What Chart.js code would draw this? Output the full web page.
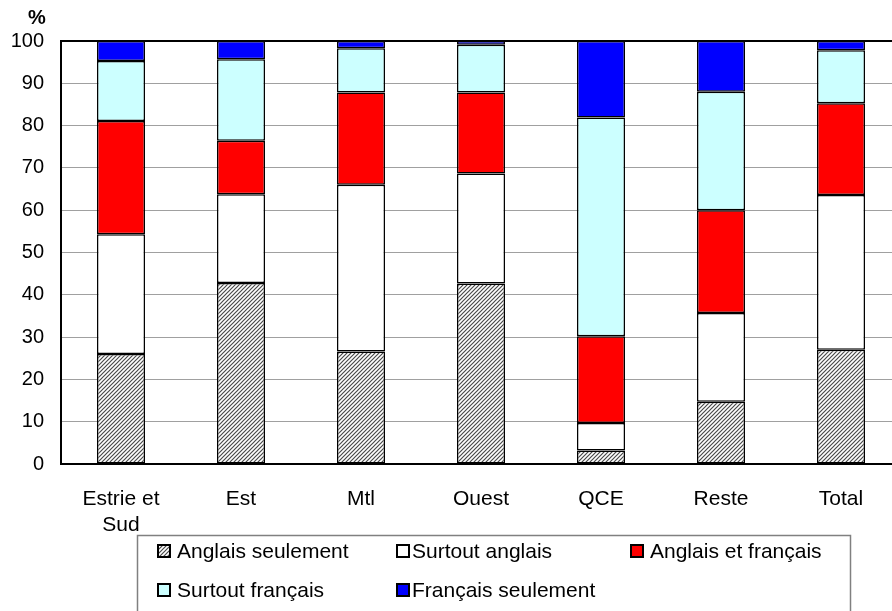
<!DOCTYPE html>
<html>
<head>
<meta charset="utf-8">
<script src="https://cdn.jsdelivr.net/npm/chart.js@4/dist/chart.umd.min.js"></script>
<style>
  html, body { margin: 0; padding: 0; background: #fff; overflow: hidden; }
  #wrap { position: absolute; left: 0; top: 0; width: 910px; height: 611px; }
</style>
</head>
<body>
<div id="wrap"><canvas id="chart" width="910" height="611"></canvas></div>
<script>
var categories = [['Estrie et', 'Sud'], 'Est', 'Mtl', 'Ouest', 'QCE', 'Reste', 'Total'];
var anglaisSeulement = [26.0, 42.8, 26.6, 42.7, 3.2, 14.7, 27.0];
var surtoutAnglais = [28.3, 21.0, 39.4, 26.0, 6.5, 21.0, 36.6];
var anglaisEtFrancais = [26.8, 12.6, 21.8, 19.1, 20.5, 24.3, 21.7];
var surtoutFrancais = [14.2, 19.3, 10.5, 11.3, 51.7, 28.0, 12.5];
var francaisSeulement = [4.7, 4.3, 1.7, 0.9, 18.1, 12.0, 2.2];
var yTicks = [0, 10, 20, 30, 40, 50, 60, 70, 80, 90, 100];

var FONT = '"Liberation Sans", Arial, sans-serif';

// motif hachuré pour "Anglais seulement"
function makeHatch() {
  var c = document.createElement('canvas');
  c.width = 4; c.height = 4;
  var g = c.getContext('2d');
  g.fillStyle = '#fff';
  g.fillRect(0, 0, 4, 4);
  g.strokeStyle = '#4a4a4a';
  g.lineWidth = 1.2;
  g.beginPath();
  g.moveTo(-1, 5); g.lineTo(5, -1);
  g.moveTo(-1, 1); g.lineTo(1, -1);
  g.moveTo(3, 5); g.lineTo(5, 3);
  g.stroke();
  return g.createPattern(c, 'repeat');
}
var hatch = makeHatch();

function ds(label, data, color) {
  return {
    label: label,
    data: data,
    backgroundColor: color,
    borderColor: '#000',
    borderWidth: 1.5,
    borderSkipped: false,
    barPercentage: 0.4,
    categoryPercentage: 1.0
  };
}

// légende encadrée + symbole %
var extras = {
  id: 'extras',
  afterDraw: function (chart) {
    var c = chart.ctx;
    c.save();
    c.fillStyle = '#000';
    c.font = 'bold 20px ' + FONT;
    c.textAlign = 'center';
    c.textBaseline = 'middle';
    c.fillText('%', 37, 18);

    c.strokeStyle = '#808080';
    c.lineWidth = 1.5;
    c.strokeRect(137.5, 535.5, 713, 100);

    var iconX = [158, 397, 631];
    var textX = [177, 412, 650];
    var rowY = [551, 590];
    c.font = '21px ' + FONT;
    c.textAlign = 'left';
    chart.data.datasets.forEach(function (d, i) {
      var col = i % 3, row = Math.floor(i / 3);
      var y = rowY[row];
      c.fillStyle = d.backgroundColor;
      c.fillRect(iconX[col], y - 6, 12, 12);
      c.strokeStyle = '#000';
      c.lineWidth = 2;
      c.strokeRect(iconX[col], y - 6, 12, 12);
      c.fillStyle = '#000';
      c.fillText(d.label, textX[col], y + 1);
    });
    c.restore();
  }
};

var ctx = document.getElementById('chart').getContext('2d');
new Chart(ctx, {
  type: 'bar',
  data: {
    labels: categories,
    datasets: [
      ds('Anglais seulement', anglaisSeulement, hatch),
      ds('Surtout anglais', surtoutAnglais, '#ffffff'),
      ds('Anglais et français', anglaisEtFrancais, '#ff0000'),
      ds('Surtout français', surtoutFrancais, '#ccffff'),
      ds('Français seulement', francaisSeulement, '#0000ff')
    ]
  },
  options: {
    responsive: false,
    animation: false,
    layout: { padding: { top: 41, right: 9, left: 0, bottom: 0 } },
    plugins: {
      legend: { display: false },
      tooltip: { enabled: false }
    },
    scales: {
      x: {
        stacked: true,
        grid: { display: false },
        border: { display: true, color: '#000', width: 2 },
        ticks: {
          color: '#000',
          padding: 14,
          maxRotation: 0,
          autoSkip: false,
          font: { family: FONT, size: 21, lineHeight: 1.25 }
        },
        afterFit: function (s) { s.height = 147; }
      },
      y: {
        stacked: true,
        min: 0,
        max: 100,
        afterBuildTicks: function (s) { s.ticks = yTicks.map(function (v) { return { value: v }; }); },
        grid: {
          drawTicks: false,
          color: function (c) { return c.tick && c.tick.value === 100 ? '#000' : '#a0a0a0'; },
          lineWidth: function (c) { return c.tick && c.tick.value === 100 ? 2 : 1; }
        },
        border: { display: true, color: '#000', width: 2 },
        ticks: {
          color: '#000',
          padding: 17,
          font: { family: FONT, size: 20 }
        },
        afterFit: function (s) { s.width = 61; }
      }
    }
  },
  plugins: [extras]
});
</script>
</body>
</html>
